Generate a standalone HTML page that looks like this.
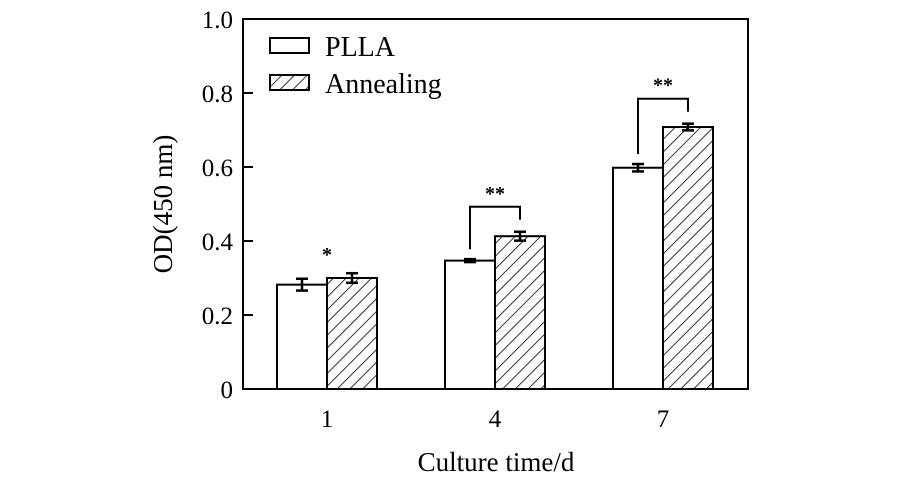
<!DOCTYPE html>
<html><head><meta charset="utf-8"><style>
body{margin:0;background:#fff;}
svg{display:block;font-family:"Liberation Serif",serif;}
</style></head><body>
<svg id="chart" width="900" height="489" viewBox="0 0 900 489">
<defs>
<pattern id="hatch" patternUnits="userSpaceOnUse" width="9" height="9" patternTransform="rotate(45)">
<rect width="9" height="9" fill="#fff"/><line x1="0" y1="0" x2="0" y2="9" stroke="#000" stroke-width="1.6"/>
</pattern>
</defs>
<g id="plot"></g>
</svg>
<script>
const categories = ["1","4","7"];
const pllaValues = [0.282, 0.347, 0.598];
const pllaErrors = [0.016, 0.004, 0.010];
const annealValues = [0.300, 0.413, 0.708];
const annealErrors = [0.013, 0.012, 0.009];
const yTicks = [0, 0.2, 0.4, 0.6, 0.8, 1.0];
const yTickLabels = ["0","0.2","0.4","0.6","0.8","1.0"];
const sigLabels = ["*","**","**"];

const NS="http://www.w3.org/2000/svg";
const g=document.getElementById('plot');
const L=243,R=748,T=19,B=389;
const y=v=>B-(v/1.0)*(B-T);
const groupCenter=i=>327+i*168;
const barW=50;
function mk(tag,attrs,parent){const e=document.createElementNS(NS,tag);for(const k in attrs)e.setAttribute(k,attrs[k]);(parent||g).appendChild(e);return e;}

let fr=mk('rect',{x:L,y:T,width:R-L,height:B-T,fill:'none',stroke:'#000','stroke-width':2});



yTicks.forEach((t,i)=>{
  let tk=mk('line',{x1:L,x2:L+10,y1:y(t),y2:y(t),stroke:'#000','stroke-width':2});
  
  
  let tx=mk('text',{x:L-10,y:y(t)+9,'text-anchor':'end','font-size':25});
  tx.textContent=yTickLabels[i];
  
  
});

function errBar(cx,v,e){
  mk('line',{x1:cx,x2:cx,y1:y(v+e),y2:y(v-e),stroke:'#000','stroke-width':2.5});
  mk('line',{x1:cx-6,x2:cx+6,y1:y(v+e),y2:y(v+e),stroke:'#000','stroke-width':2.5});
  mk('line',{x1:cx-6,x2:cx+6,y1:y(v-e),y2:y(v-e),stroke:'#000','stroke-width':2.5});
}

categories.forEach((c,i)=>{
  const cx=groupCenter(i);
  let b1=mk('rect',{x:cx-barW,y:y(pllaValues[i]),width:barW,height:B-y(pllaValues[i]),fill:'#fff',stroke:'#000','stroke-width':2});
  
  
  let b2=mk('rect',{x:cx,y:y(annealValues[i]),width:barW,height:B-y(annealValues[i]),fill:'url(#hatch)',stroke:'#000','stroke-width':2});
  
  
  errBar(cx-barW/2,pllaValues[i],pllaErrors[i]);
  errBar(cx+barW/2,annealValues[i],annealErrors[i]);
  let xl=mk('text',{x:cx,y:B+38,'text-anchor':'middle','font-size':25});
  xl.textContent=c;
  
  
  const top=Math.max(pllaValues[i]+pllaErrors[i],annealValues[i]+annealErrors[i]);
  if(i>0){
    const by=y(top)-25;
    let br=mk('polyline',{points:`${cx-barW/2},${y(pllaValues[i]+pllaErrors[i])-10} ${cx-barW/2},${by} ${cx+barW/2},${by} ${cx+barW/2},${by+13}`,fill:'none',stroke:'#000','stroke-width':2});
    
    
    let st=mk('text',{x:cx,y:by-7,'text-anchor':'middle','font-size':20,'font-weight':'bold'});
    st.textContent=sigLabels[i];
    
    
  } else {
    let st=mk('text',{x:cx,y:y(top)-12,'text-anchor':'middle','font-size':20,'font-weight':'bold'});
    st.textContent=sigLabels[i];
    
    
  }
});

let lg=mk('rect',{x:270,y:38,width:39,height:15,fill:'#fff',stroke:'#000','stroke-width':2});


let lt=mk('text',{x:325,y:56,'font-size':28});lt.textContent='PLLA';


let lg2=mk('rect',{x:270,y:75,width:39,height:15,fill:'url(#hatch)',stroke:'#000','stroke-width':2});


let lt2=mk('text',{x:325,y:93,'font-size':28});lt2.textContent='Annealing';



let xt=mk('text',{x:496,y:471,'text-anchor':'middle','font-size':27});xt.textContent='Culture time/d';


let yt=mk('text',{x:0,y:0,'text-anchor':'middle','font-size':27,transform:'translate(172,204) rotate(-90)'});yt.textContent='OD(450 nm)';


</script>
</body></html>
